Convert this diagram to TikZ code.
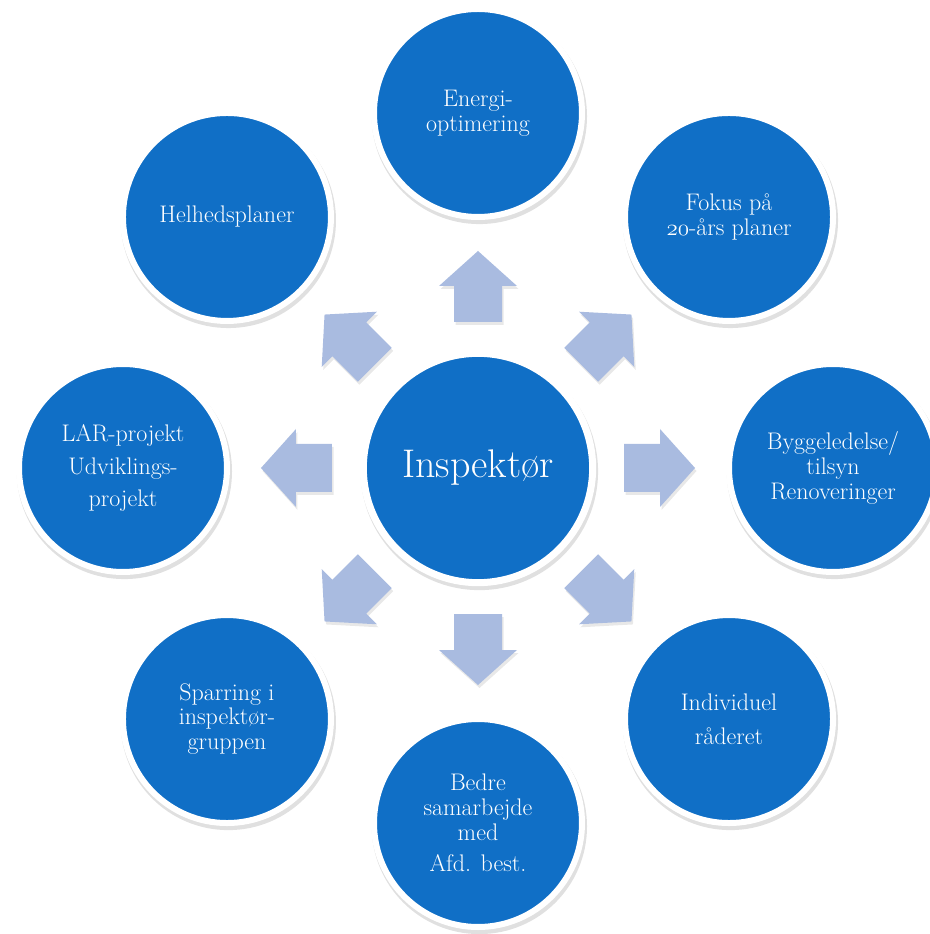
\documentclass[tikz,border=0pt]{standalone}
\usepackage{fontspec}
\setmainfont{Latin Modern Roman}
\usetikzlibrary{positioning}
\usetikzlibrary{shadows}

\definecolor{bubbleblue}{RGB}{16,111,198}
\definecolor{arrowblue}{RGB}{169,187,224}

\tikzset{
  bubble/.style={circle, fill=bubbleblue, draw=white, line width=4.5pt,
    minimum size=156pt, inner sep=0pt, align=center, text=white,
    font=\fontsize{18}{18.5}\selectfont,
    drop shadow={shadow xshift=1pt, shadow yshift=-2.5pt, shadow scale=1.035,
      fill=black, opacity=0.12}},
  hub/.style={bubble, minimum size=172pt, line width=5.25pt,
    font=\fontsize{30}{34}\selectfont},
  blockarrow/.style={fill=arrowblue},
  blockshadow/.style={fill=black, opacity=0.09}
}

\begin{document}
\begin{tikzpicture}[x=0.75pt, y=0.75pt]
  % Set the radius of the outer ring
  \def\radius{355}

  \fill[white] (-478,-466) rectangle (452,468);
  \useasboundingbox (-478,-466) rectangle (452,468);

  % Block arrows pointing away from the hub
  \foreach \a in {0,45,...,315} {
    \fill[blockshadow, shift={(1.5,-3)}, rotate=\a]
      (146,-24) -- (182,-24) -- (182,-39) -- (217,0) -- (182,39) -- (182,24) -- (146,24) -- cycle;
    \fill[blockarrow, rotate=\a]
      (146,-24) -- (182,-24) -- (182,-39) -- (217,0) -- (182,39) -- (182,24) -- (146,24) -- cycle;
  }

  \node[hub] (insp) at (0,0) {Inspektør};

  % Outer circles
  \node[bubble] (energi) at (90:\radius) {Energi-\\optimering};
  \node[bubble] (fokus) at (45:\radius) {Fokus på\\$\mathnormal{20}$-års planer};
  \node[bubble] (bygge) at (0:\radius) {Byggeledelse/\\tilsyn\\Renoveringer};
  \node[bubble] (individuel) at (-45:\radius) {Individuel\\[7pt]råderet};
  \node[bubble] (bedre) at (-90:\radius) {Bedre\\samarbejde\\med\\[5pt]Afd. best.};
  \node[bubble] (sparring) at (-135:\radius) {Sparring i\\inspektør-\\gruppen};
  \node[bubble] (lar) at (180:\radius) {LAR-projekt\\[6pt]Udviklings-\\[6pt]projekt};
  \node[bubble] (helhed) at (135:\radius) {Helhedsplaner};

\end{tikzpicture}
\end{document}
